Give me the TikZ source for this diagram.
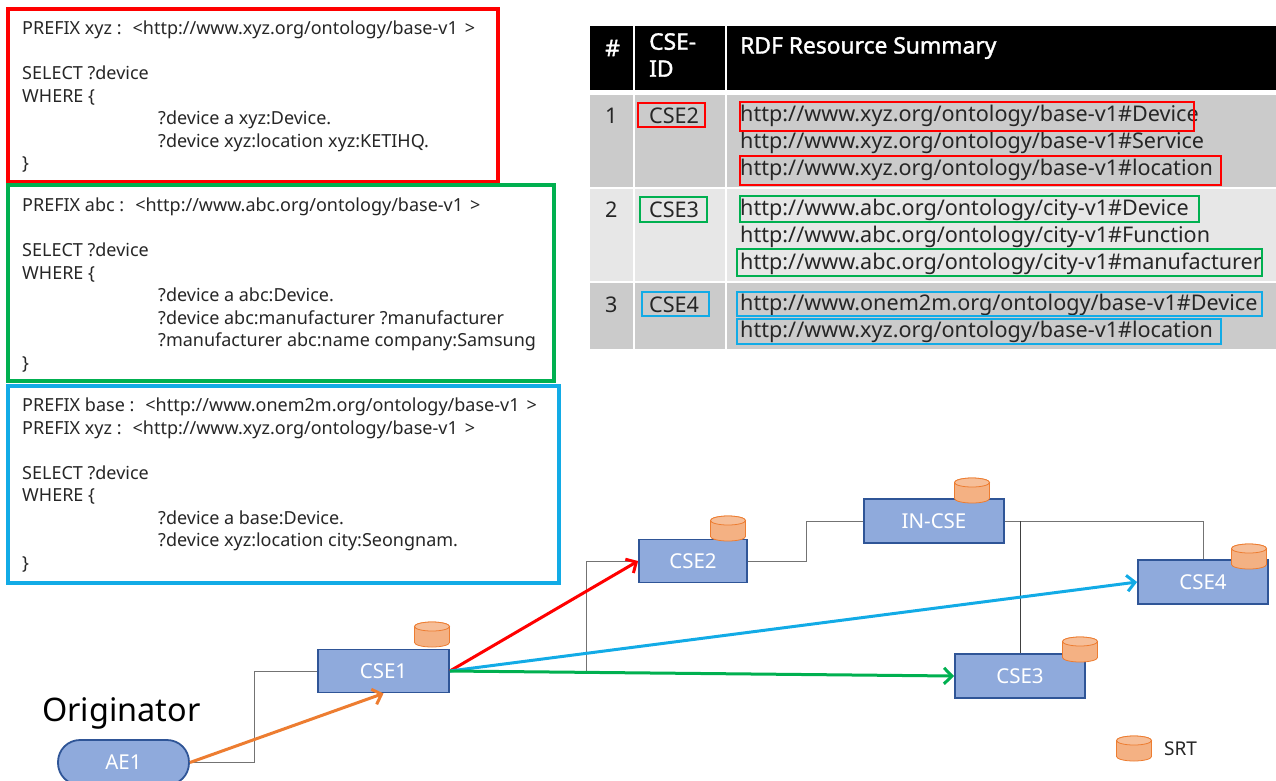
\documentclass[tikz,border=0pt]{standalone}
\usepackage{fontspec}
\setmainfont{Noto Sans}
\newfontfamily\headfont[FakeBold=1.5]{Noto Sans}
\usetikzlibrary{arrows.meta}
\definecolor{cred}{HTML}{FF0000}
\definecolor{cgreen}{HTML}{00B050}
\definecolor{cblue}{HTML}{12ABE6}
\definecolor{corange}{HTML}{ED7D31}
\definecolor{cfill}{HTML}{8FAADC}
\definecolor{cedge}{HTML}{2F5597}
\definecolor{rowa}{HTML}{CBCBCB}
\definecolor{rowb}{HTML}{E7E7E7}
\newcommand{\prefixurl}[1]{\hspace{11pt}<#1\hspace{7pt}>}
\tikzset{
    qbox/.style={line width=4pt},
    qtext/.style={anchor=north west,inner sep=0pt,align=left,text=black!85,font=\fontsize{18}{22.5}\selectfont},
    head/.style={anchor=west,inner sep=0pt,text=white,font=\fontsize{22.8}{27}\selectfont\headfont,align=left},
    cell/.style={anchor=west,inner sep=0pt,text=black!85,font=\fontsize{21.6}{27}\selectfont},
    hilite/.style={line width=1.5pt},
    unit/.style={draw=cedge,fill=cfill,line width=1.8pt,inner sep=0pt,text=white,font=\fontsize{20.5}{23}\selectfont},
    srt/.pic={
        \filldraw[draw=corange,line width=0.8pt,fill=corange!60] (-17.5,-8) -- (-17.5,8)
            arc[start angle=180,end angle=360,x radius=17.5pt,y radius=4.5pt] -- (17.5,-8)
            arc[start angle=0,end angle=180,x radius=17.5pt,y radius=4.5pt] -- cycle;
        \filldraw[draw=corange,line width=0.8pt,fill=corange!50] (0,-8) ellipse[x radius=17.5pt,y radius=4.5pt];
    },
    link/.style={draw=black!55,line width=1pt},
    flow/.style={line width=3pt,-{Straight Barb[length=8pt,width=16pt]}}
}
\begin{document}
\begin{tikzpicture}[x=1pt,y=-1pt]
    \useasboundingbox (0,0) rectangle (1276,780);
    % queries
    \draw[qbox,cred] (8,9) rectangle (498,182);
    \draw[qbox,cgreen] (8,185) rectangle (554,381);
    \draw[qbox,cblue] (8,386) rectangle (559,583);
    \node[qtext] (qxyz) at (22,21) {PREFIX xyz :\prefixurl{http://www.xyz.org/ontology/base-v1}\\[22.5pt]
        SELECT ?device\\
        WHERE \{\\
        \hspace*{136pt}?device a xyz:Device.\\
        \hspace*{136pt}?device xyz:location xyz:KETIHQ.\\
        \}};
    \node[qtext] (qabc) at (22,198) {PREFIX abc :\prefixurl{http://www.abc.org/ontology/base-v1}\\[22.5pt]
        SELECT ?device\\
        WHERE \{\\
        \hspace*{136pt}?device a abc:Device.\\
        \hspace*{136pt}?device abc:manufacturer ?manufacturer\\
        \hspace*{136pt}?manufacturer abc:name company:Samsung\\
        \}};
    \node[qtext] (qbase) at (22,398) {PREFIX base :\prefixurl{http://www.onem2m.org/ontology/base-v1}\\
        PREFIX xyz :\prefixurl{http://www.xyz.org/ontology/base-v1}\\[22.5pt]
        SELECT ?device\\
        WHERE \{\\
        \hspace*{136pt}?device a base:Device.\\
        \hspace*{136pt}?device xyz:location city:Seongnam.\\
        \}};
    % table
    \fill (590,26) rectangle (633,90);
    \fill (635,26) rectangle (725,90);
    \fill (727,26) rectangle (1276,90);
    \fill[rowa] (590,95) rectangle (633,187);
    \fill[rowa] (635,95) rectangle (725,187);
    \fill[rowa] (727,95) rectangle (1276,187);
    \fill[rowb] (590,189) rectangle (633,281);
    \fill[rowb] (635,189) rectangle (725,281);
    \fill[rowb] (727,189) rectangle (1276,281);
    \fill[rowa] (590,283) rectangle (633,349);
    \fill[rowa] (635,283) rectangle (725,349);
    \fill[rowa] (727,283) rectangle (1276,349);
    \node[head] (hnum) at (605,48) {\#};
    \node[head,anchor=north west] (hid) at (649,33) {CSE-\\ID};
    \node[head] (hsum) at (740,48) {RDF Resource Summary};
    \node[cell] (n1) at (605,116) {1};
    \node[cell] (n2) at (605,210) {2};
    \node[cell] (n3) at (605,305) {3};
    \node[cell] (id1) at (649,116) {CSE2};
    \node[cell] (id2) at (649,210) {CSE3};
    \node[cell] (id3) at (649,305) {CSE4};
    \node[cell] (u1) at (740,116) {http://www.xyz.org/ontology/base-v1\#Device};
    \node[cell] (u2) at (740,143) {http://www.xyz.org/ontology/base-v1\#Service};
    \node[cell] (u3) at (740,170) {http://www.xyz.org/ontology/base-v1\#location};
    \node[cell] (u4) at (740,210) {http://www.abc.org/ontology/city-v1\#Device};
    \node[cell] (u5) at (740,237) {http://www.abc.org/ontology/city-v1\#Function};
    \node[cell] (u6) at (740,264) {http://www.abc.org/ontology/city-v1\#manufacturer};
    \node[cell] (u7) at (740,305) {http://www.onem2m.org/ontology/base-v1\#Device};
    \node[cell] (u8) at (740,332) {http://www.xyz.org/ontology/base-v1\#location};
    % marks
    \draw[hilite,cred] (638,103) rectangle (705,127);
    \draw[hilite,cred] (740,102) rectangle (1194,131);
    \draw[hilite,cred] (740,156) rectangle (1221,185);
    \draw[hilite,cgreen] (640,197) rectangle (707,222);
    \draw[hilite,cgreen] (740,196) rectangle (1199,222);
    \draw[hilite,cgreen] (737,249) rectangle (1262,276);
    \draw[hilite,cblue] (642,292) rectangle (709,316);
    \draw[hilite,cblue] (737,292) rectangle (1262,316);
    \draw[hilite,cblue] (737,319) rectangle (1221,344);
    % network
    \node[unit,rounded corners=22pt,minimum width=131pt,minimum height=45pt] (ae1) at (123.5,762.5) {AE1};
    \node[unit,minimum width=131pt,minimum height=43pt] (cse1) at (383.5,671) {CSE1};
    \node[unit,minimum width=108pt,minimum height=43pt] (cse2) at (693,561) {CSE2};
    \node[unit,minimum width=140pt,minimum height=44pt] (incse) at (934,521) {IN-CSE};
    \node[unit,minimum width=130pt,minimum height=44pt] (cse3) at (1020,676) {CSE3};
    \node[unit,minimum width=130pt,minimum height=44pt] (cse4) at (1203,582) {CSE4};
    \node[anchor=west,inner sep=0pt,font=\fontsize{32.4}{36}\selectfont] (orig) at (42,713) {Originator};
    \draw[link] (ae1.east) -- ++(65,0) |- (cse1.west);
    \draw[link] (cse1.east) -- ++(137,0) |- (cse2.west);
    \draw[link] (cse2.east) -- ++(59,0) |- (incse.west);
    \draw[link] (incse.east) -| (cse4.north);
    \draw[link,draw=black!75] (incse.east -| cse3.north) -- (cse3.north);
    \pic at (432,634.5) {srt};
    \pic at (728,528.5) {srt};
    \pic at (972,490.5) {srt};
    \pic at (1080,649.5) {srt};
    \pic at (1249,556.5) {srt};
    \pic at (1134,748.5) {srt};
    \node[anchor=west,inner sep=0pt,text=black!85,font=\fontsize{19}{22}\selectfont] (srtname) at (1164,749) {SRT};
    \draw[flow,corange] (ae1.east) -- (cse1.south);
    \draw[flow,cred] (cse1.east) -- (cse2.west);
    \draw[flow,cblue] (cse1.east) -- (cse4.west);
    \draw[flow,cgreen] (cse1.east) -- (cse3.west);
\end{tikzpicture}
\end{document}
